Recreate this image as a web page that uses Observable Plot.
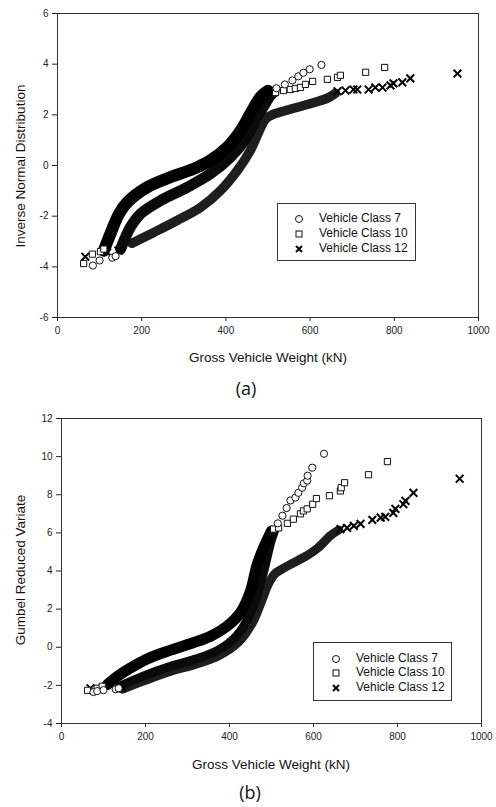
<!DOCTYPE html>
<html><head><meta charset="utf-8">
<script src="https://cdn.jsdelivr.net/npm/d3@7"></script>
<script src="https://cdn.jsdelivr.net/npm/@observablehq/plot@0.6"></script>
<style>
body{margin:0;background:#fff;}
#wrap{position:relative;width:496px;height:807px;font-family:"Liberation Sans",Arial,sans-serif;color:#111;overflow:hidden;background:#fff}
.abs{position:absolute}
.panel{position:absolute;left:0}
.ylab{position:absolute;font-size:13.5px;white-space:nowrap;transform:translate(-50%,-50%) rotate(-90deg)}
.xlab{position:absolute;font-size:13.5px;white-space:nowrap;transform:translate(-50%,-50%)}
.cap{position:absolute;font-family:"Open Sans",sans-serif;font-size:18px;transform:translate(-50%,-50%)}
.legend{position:absolute;border:1px solid #333;box-sizing:border-box;background:#fff;font-size:12px}
.legend .sym{position:absolute;width:10px;height:10px;transform:translate(-50%,-50%)}
.legend .txt{position:absolute;transform:translateY(-50%);white-space:nowrap}
</style></head><body><div id="wrap"></div>
<script>
// ---------- shared ----------
const xTicks = [0, 200, 400, 600, 800, 1000];
const classNames = ["Vehicle Class 7", "Vehicle Class 10", "Vehicle Class 12"];
const xTitle = "Gross Vehicle Weight (kN)";

// ---------- panel (a): Inverse Normal Distribution ----------
const yTicksA = [-6, -4, -2, 0, 2, 4, 6];
const yTitleA = "Inverse Normal Distribution";
// dense bands (kN, variate)
const bandA7 = [[110,-3.36],[128,-2.6],[146,-1.91],[166,-1.45],[213,-0.86],[268,-0.46],[324,-0.13],[363,0.2],[403,0.72],[435,1.38],[458,2.04],[482,2.7],[500,2.95]];
const bandA10 = [[150,-3.3],[173,-2.44],[197,-1.91],[245,-1.38],[308,-0.86],[363,-0.33],[411,0.33],[450,1.12],[474,1.91],[492,2.4],[505,2.75],[514,2.9]];
const bandA12 = [[177,-3.07],[229,-2.64],[284,-2.17],[340,-1.65],[387,-0.99],[427,-0.2],[458,0.59],[480,1.4],[495,1.85],[512,2.02],[532,2.12],[570,2.3],[608,2.48],[640,2.65],[660,2.85]];
// sparse markers
const ptsA7 = [[84,-3.95],[100,-3.75],[130,-3.64],[138,-3.58],[520,3.05],[540,3.2],[558,3.36],[572,3.52],[584,3.66],[599,3.8],[627,3.97]];
const ptsA10 = [[62,-3.87],[83,-3.5],[102,-3.4],[110,-3.3],[518,2.88],[537,2.96],[553,3.0],[565,3.04],[577,3.08],[589,3.2],[606,3.32],[641,3.4],[665,3.48],[672,3.56],[732,3.68],[777,3.87]];
const ptsA12 = [[66,-3.6],[118,-3.43],[145,-3.36],[665,2.93],[684,2.96],[703,3.0],[712,3.0],[739,3.0],[755,3.08],[772,3.08],[791,3.16],[798,3.24],[819,3.28],[838,3.44],[950,3.63]];

// ---------- panel (b): Gumbel Reduced Variate ----------
const yTicksB = [-4, -2, 0, 2, 4, 6, 8, 10, 12];
const yTitleB = "Gumbel Reduced Variate";
const bandB7 = [[109,-1.96],[133,-1.53],[164,-1.09],[205,-0.6],[260,-0.15],[315,0.25],[355,0.58],[394,1.1],[426,1.81],[450,2.95],[466,4.35],[485,5.4],[500,6.1]];
const bandB10 = [[138,-2.05],[196,-1.5],[260,-1.0],[315,-0.65],[371,-0.18],[415,0.55],[445,1.55],[468,2.9],[485,4.3],[498,5.5],[507,6.1]];
const bandB12 = [[145,-2.2],[198,-1.75],[262,-1.25],[318,-0.9],[374,-0.45],[422,0.28],[455,1.3],[476,2.4],[492,3.3],[508,3.85],[525,4.1],[548,4.38],[580,4.75],[610,5.2],[640,5.85],[660,6.15]];
const ptsB7 = [[76,-2.35],[85,-2.3],[100,-2.25],[129,-2.2],[136,-2.15],[515,6.5],[526,6.9],[536,7.3],[545,7.7],[557,7.85],[564,8.1],[573,8.37],[577,8.6],[585,8.74],[586,9.0],[597,9.42],[625,10.15]];
const ptsB10 = [[62,-2.26],[85,-2.15],[97,-2.05],[505,6.2],[517,6.26],[538,6.5],[552,6.72],[569,7.0],[576,7.15],[585,7.26],[598,7.5],[607,7.8],[638,7.95],[664,8.2],[666,8.37],[674,8.63],[731,9.05],[776,9.74]];
const ptsB12 = [[69,-2.15],[145,-2.15],[664,6.2],[680,6.26],[696,6.37],[712,6.47],[740,6.68],[760,6.8],[771,6.84],[790,7.05],[795,7.26],[814,7.5],[819,7.68],[838,8.1],[948,8.84]];

const wrap = document.getElementById("wrap");
const fmt = d => String(d);
const X = d => d[0], Y = d => d[1];

function panel(cfg) {
  const bandOpts = (w, c) => ({x: X, y: Y, stroke: c, strokeWidth: w, curve: "catmull-rom", strokeLinecap: "round", strokeLinejoin: "round"});
  const svg = Plot.plot({
    width: 496, height: cfg.height,
    marginTop: cfg.mt, marginLeft: cfg.ml, marginRight: cfg.mr, marginBottom: cfg.mb,
    style: {fontFamily: "Liberation Sans, Arial, sans-serif", fontSize: "10px", color: "#222", background: "transparent"},
    x: {domain: [0, 1000], ticks: xTicks, tickFormat: fmt, tickSize: 4, tickPadding: 5, label: null},
    y: {domain: cfg.ydomain, ticks: cfg.yticks, tickFormat: fmt, tickSize: 5, tickPadding: 4, label: null},
    marks: [
      Plot.line(cfg.b12, bandOpts(cfg.w12, "#1e1e1e")),
      Plot.line(cfg.b10, bandOpts(cfg.w10, "#0a0a0a")),
      Plot.line(cfg.b7, bandOpts(cfg.w7, "#000")),
      Plot.dot(cfg.p12, {x: X, y: Y, symbol: "times", r: 3.6, stroke: "#000", strokeWidth: 2, fill: "none"}),
      Plot.dot(cfg.p10, {x: X, y: Y, symbol: "square", r: 3.5, stroke: "#111", strokeWidth: 1, fill: "#fff"}),
      Plot.dot(cfg.p7, {x: X, y: Y, symbol: "circle", r: 3.6, stroke: "#111", strokeWidth: 1, fill: "#fff"}),
      Plot.frame({stroke: "#333"})
    ]
  });
  svg.classList.add("panel");
  svg.style.top = cfg.top + "px";
  wrap.appendChild(svg);
}

panel({top: 0, height: 345, mt: 13, ml: 57, mr: 18, mb: 28, ydomain: [-6, 6], yticks: yTicksA,
  b7: bandA7, b10: bandA10, b12: bandA12, p7: ptsA7, p10: ptsA10, p12: ptsA12, w7: 12, w10: 11, w12: 9.5});
panel({top: 400, height: 350, mt: 18, ml: 61, mr: 15, mb: 27, ydomain: [-4, 12], yticks: yTicksB,
  b7: bandB7, b10: bandB10, b12: bandB12, p7: ptsB7, p10: ptsB10, p12: ptsB12, w7: 11, w10: 9, w12: 9});

function addText(cls, text, x, y) {
  const d = document.createElement("div");
  d.className = cls; d.textContent = text;
  d.style.left = x + "px"; d.style.top = y + "px";
  wrap.appendChild(d);
}
addText("ylab", yTitleA, 20, 166);
addText("xlab", xTitle, 268, 357);
addText("cap", "(a)", 246, 388);
addText("ylab", yTitleB, 20, 570);
addText("xlab", xTitle, 271, 764);
addText("cap", "(b)", 250, 792);

const symSvg = [
  '<svg viewBox="-5 -5 10 10" width="10" height="10"><circle r="3.5" fill="#fff" stroke="#111" stroke-width="1"/></svg>',
  '<svg viewBox="-5 -5 10 10" width="10" height="10"><rect x="-3" y="-3" width="6" height="6" fill="#fff" stroke="#111" stroke-width="1"/></svg>',
  '<svg viewBox="-5 -5 10 10" width="10" height="10"><path d="M-3,-3L3,3M-3,3L3,-3" stroke="#000" stroke-width="2"/></svg>'
];
function legend(left, top, w, h, rows, symX, txtX) {
  const box = document.createElement("div");
  box.className = "legend";
  Object.assign(box.style, {left: left + "px", top: top + "px", width: w + "px", height: h + "px"});
  classNames.forEach((name, i) => {
    const s = document.createElement("div");
    s.className = "sym"; s.innerHTML = symSvg[i];
    s.style.left = symX + "px"; s.style.top = rows[i] + "px";
    box.appendChild(s);
    const t = document.createElement("div");
    t.className = "txt"; t.textContent = name;
    t.style.left = txtX + "px"; t.style.top = rows[i] + "px";
    box.appendChild(t);
  });
  wrap.appendChild(box);
}
legend(277, 203, 139, 58, [14, 29, 44], 21, 41);
legend(313, 642, 139, 59, [15, 29, 44], 22, 42);
</script></body></html>
